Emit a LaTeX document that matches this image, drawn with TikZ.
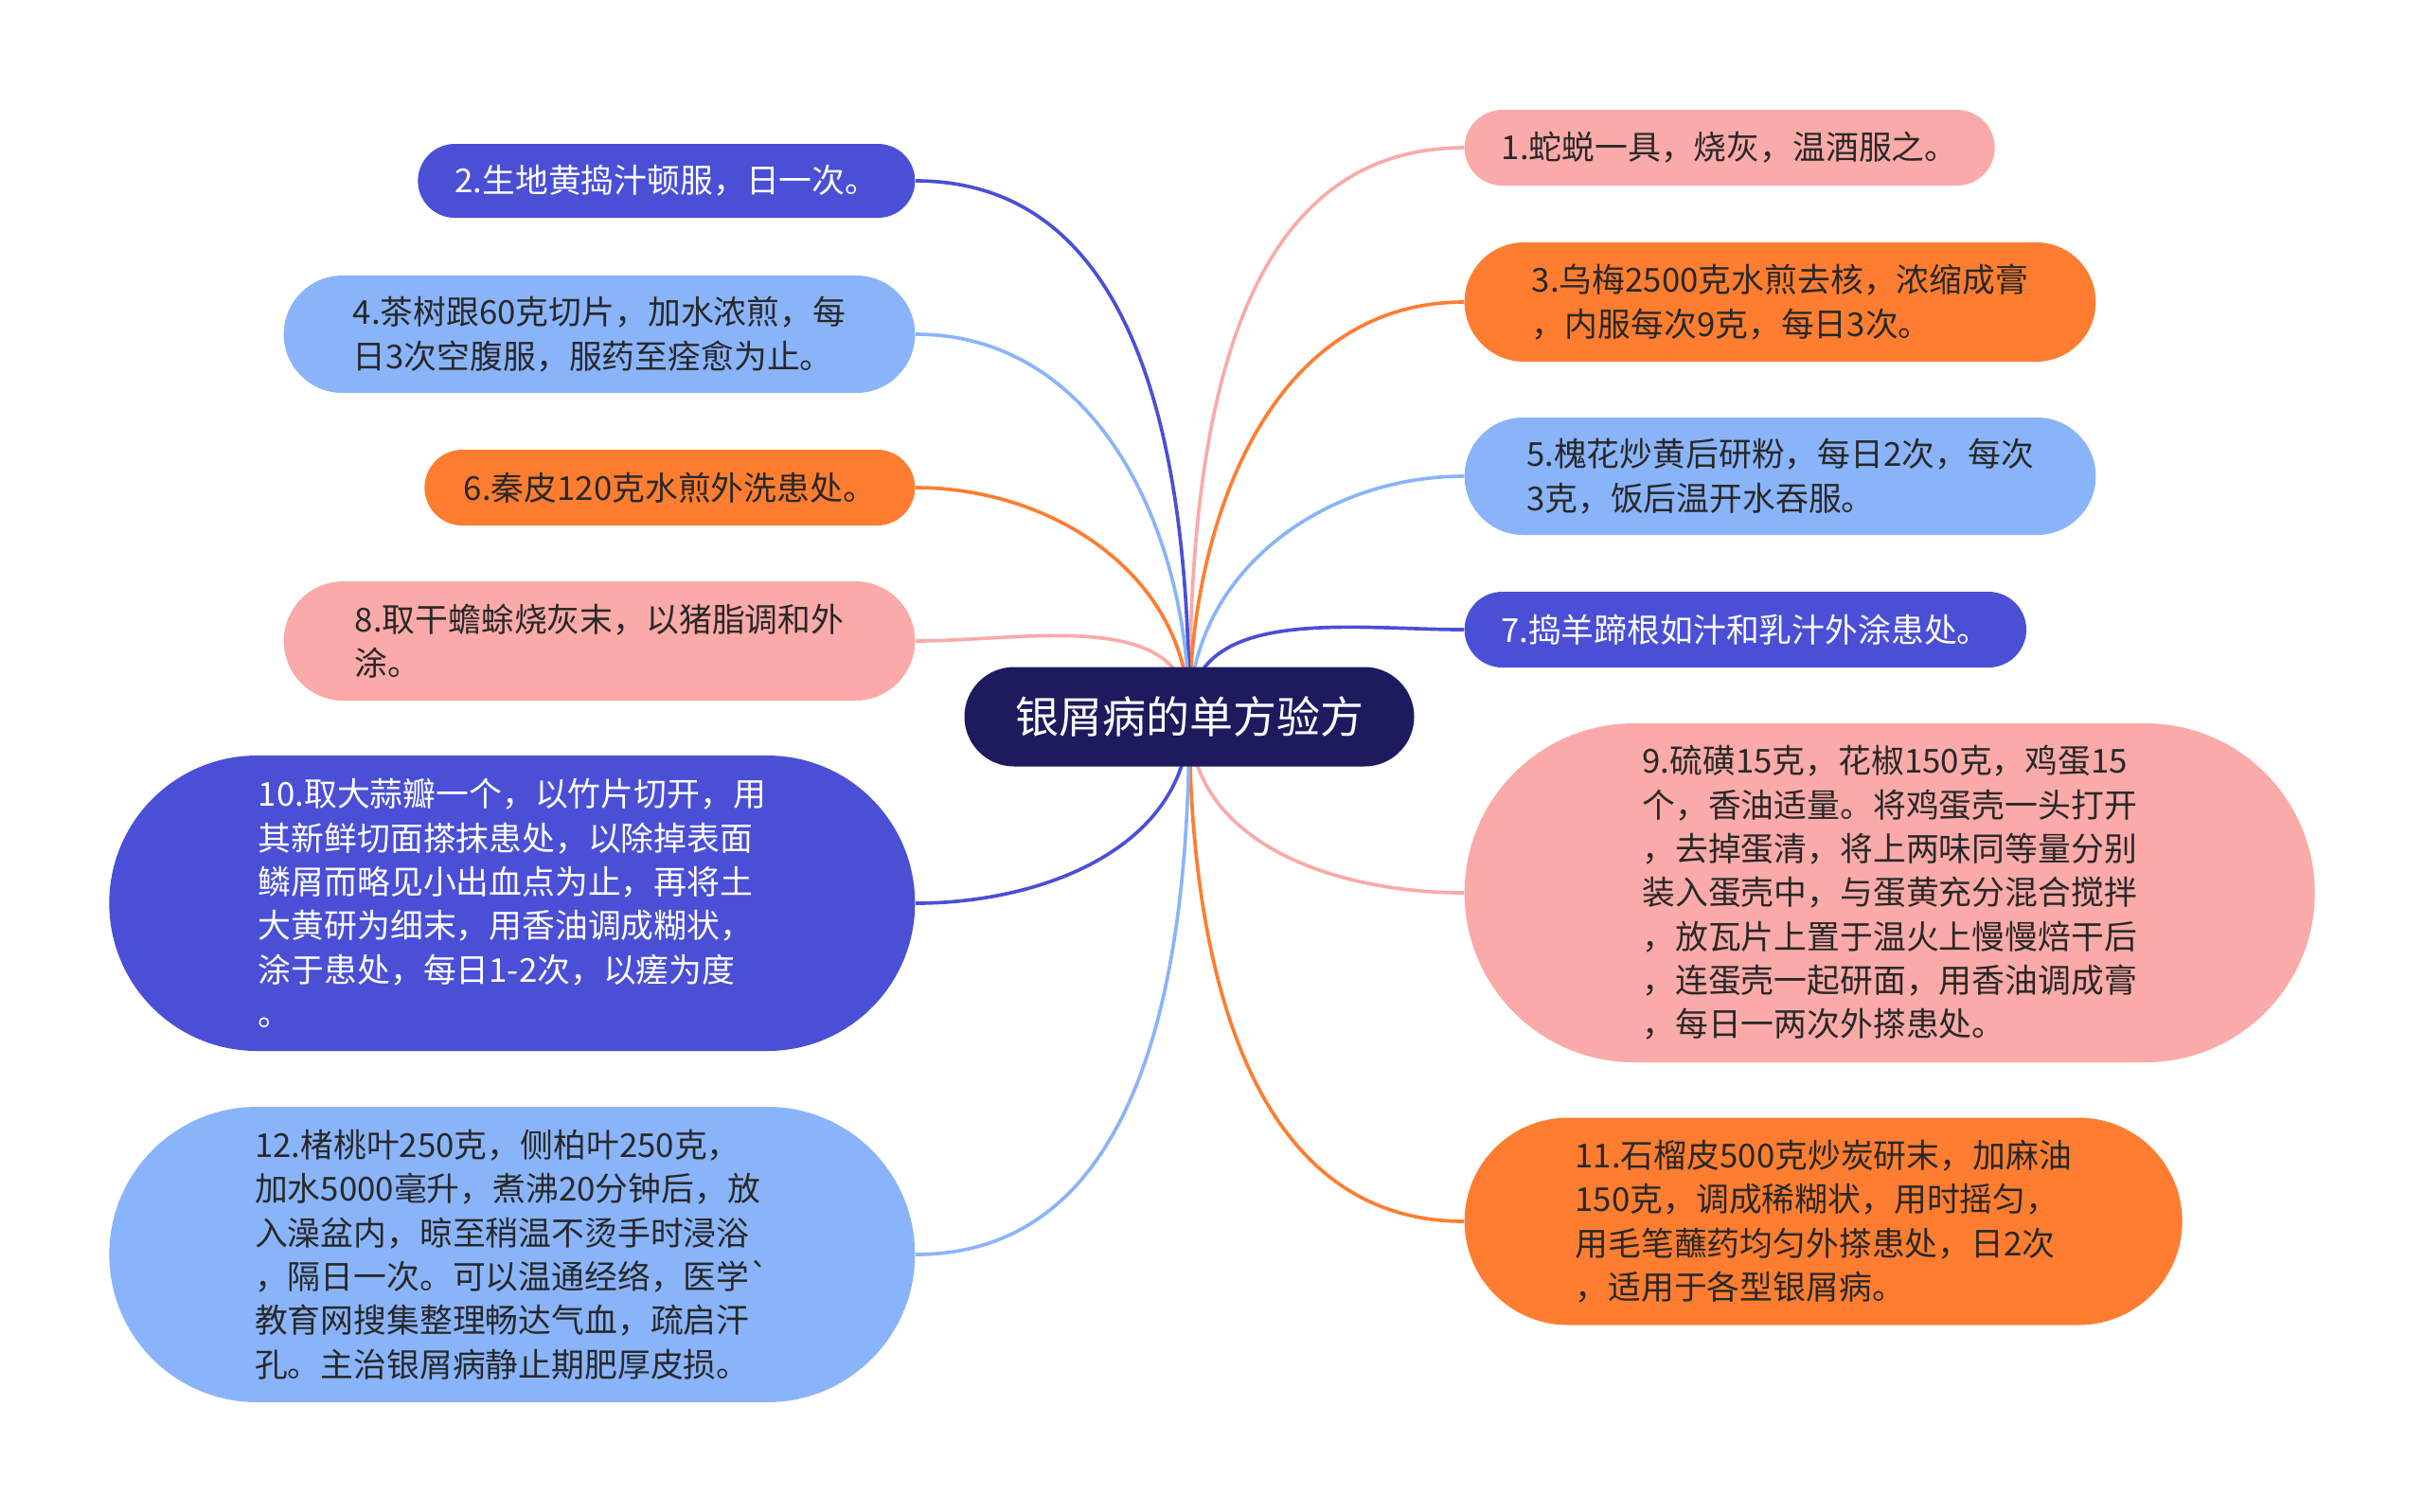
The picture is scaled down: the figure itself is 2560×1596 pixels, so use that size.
\documentclass[tikz,border=0pt]{standalone}
\usepackage{fontspec}
\setmainfont{Noto Sans CJK SC}
\usetikzlibrary{shapes.misc,backgrounds}

\definecolor{rootC}{RGB}{29,27,94}
\definecolor{blueC}{RGB}{74,79,214}
\definecolor{skyC}{RGB}{138,180,250}
\definecolor{orangeC}{RGB}{255,125,48}
\definecolor{pinkC}{RGB}{250,170,168}
\definecolor{inkC}{RGB}{40,40,40}

\begin{document}
\begin{tikzpicture}[x=0.3pt,y=-0.3pt,
      every node/.style={font=\fontsize{10.45}{13.9}\selectfont, align=left,
        rounded rectangle, inner sep=0pt},
      topic/.style={fill=#1, text=inkC},
      darktopic/.style={fill=#1, text=white},
      link/.style={draw=#1, line width=1.1pt}]
    \useasboundingbox (0,0) rectangle (2560,1596);

    \node[darktopic=rootC, minimum width=142.5pt, minimum height=31.5pt,
      font=\fontsize{13.8}{16}\selectfont] (ROOT) at (1256,757) {银屑病的单方验方}; % Root

    % right side
    \node[topic=pinkC, anchor=west, minimum width=168pt, minimum height=24pt] (R1) at (1546,156)
      {1.蛇蜕一具，烧灰，温酒服之。};
    \node[topic=orangeC, anchor=west, minimum width=200pt, minimum height=37.8pt] (R3) at (1546,319)
      {3.乌梅2500克水煎去核，浓缩成膏\\，内服每次9克，每日3次。};
    \node[topic=skyC, anchor=west, minimum width=200pt, minimum height=37.2pt] (R5) at (1546,503)
      {5.槐花炒黄后研粉，每日2次，每次\\3克，饭后温开水吞服。};
    \node[darktopic=blueC, anchor=west, minimum width=178pt, minimum height=24pt] (R7) at (1546,665)
      {7.捣羊蹄根如汁和乳汁外涂患处。};
    \node[topic=pinkC, anchor=west, minimum width=269.4pt, minimum height=107.4pt] (R9) at (1546,943)
      {9.硫磺15克，花椒150克，鸡蛋15\\个，香油适量。将鸡蛋壳一头打开\\，去掉蛋清，将上两味同等量分别\\装入蛋壳中，与蛋黄充分混合搅拌\\，放瓦片上置于温火上慢慢焙干后\\，连蛋壳一起研面，用香油调成膏\\，每日一两次外搽患处。};
    \node[topic=orangeC, anchor=west, minimum width=227.4pt, minimum height=65.7pt] (R11) at (1546,1290)
      {11.石榴皮500克炒炭研末，加麻油\\150克，调成稀糊状，用时摇匀，\\用毛笔蘸药均匀外搽患处，日2次\\，适用于各型银屑病。};

    % left side
    \node[darktopic=blueC, anchor=east, minimum width=157.5pt, minimum height=23.4pt] (L2) at (967,191)
      {2.生地黄捣汁顿服，日一次。};
    \node[topic=skyC, anchor=east, minimum width=200pt, minimum height=37.2pt] (L4) at (967,353)
      {4.茶树跟60克切片，加水浓煎，每\\日3次空腹服，服药至痊愈为止。};
    \node[topic=orangeC, anchor=east, minimum width=155.4pt, minimum height=24pt] (L6) at (967,515)
      {6.秦皮120克水煎外洗患处。};
    \node[topic=pinkC, anchor=east, minimum width=200pt, minimum height=37.8pt] (L8) at (967,677)
      {8.取干蟾蜍烧灰末，以猪脂调和外\\涂。};
    \node[darktopic=blueC, anchor=east, minimum width=255.3pt, minimum height=93.6pt] (L10) at (967,954)
      {10.取大蒜瓣一个，以竹片切开，用\\其新鲜切面搽抹患处，以除掉表面\\鳞屑而略见小出血点为止，再将土\\大黄研为细末，用香油调成糊状，\\涂于患处，每日1-2次，以瘥为度\\。};
    \node[topic=skyC, anchor=east, minimum width=255.3pt, minimum height=93.6pt] (L12) at (967,1325)
      {12.楮桃叶250克，侧柏叶250克，\\加水5000毫升，煮沸20分钟后，放\\入澡盆内，晾至稍温不烫手时浸浴\\，隔日一次。可以温通经络，医学\textasciigrave\\教育网搜集整理畅达气血，疏启汗\\孔。主治银屑病静止期肥厚皮损。};

    \begin{scope}[on background layer]
      \draw[link=pinkC]   (ROOT.center) to[out=90,in=180]  (R1.west);
      \draw[link=orangeC] (ROOT.center) to[out=90,in=180]  (R3.west);
      \draw[link=skyC]    (ROOT.center) to[out=90,in=180]  (R5.west);
      \draw[link=blueC]   (ROOT.center) to[out=90,in=180]  (R7.west);
      \draw[link=pinkC]   (ROOT.center) to[out=-90,in=180] (R9.west);
      \draw[link=orangeC] (ROOT.center) to[out=-90,in=180] (R11.west);
      \draw[link=blueC]   (ROOT.center) to[out=90,in=0]    (L2.east);
      \draw[link=skyC]    (ROOT.center) to[out=90,in=0]    (L4.east);
      \draw[link=orangeC] (ROOT.center) to[out=90,in=0]    (L6.east);
      \draw[link=pinkC]   (ROOT.center) to[out=90,in=0]    (L8.east);
      \draw[link=blueC]   (ROOT.center) to[out=-90,in=0]   (L10.east);
      \draw[link=skyC]    (ROOT.center) to[out=-90,in=0]   (L12.east);
    \end{scope}
  \end{tikzpicture}
\end{document}
